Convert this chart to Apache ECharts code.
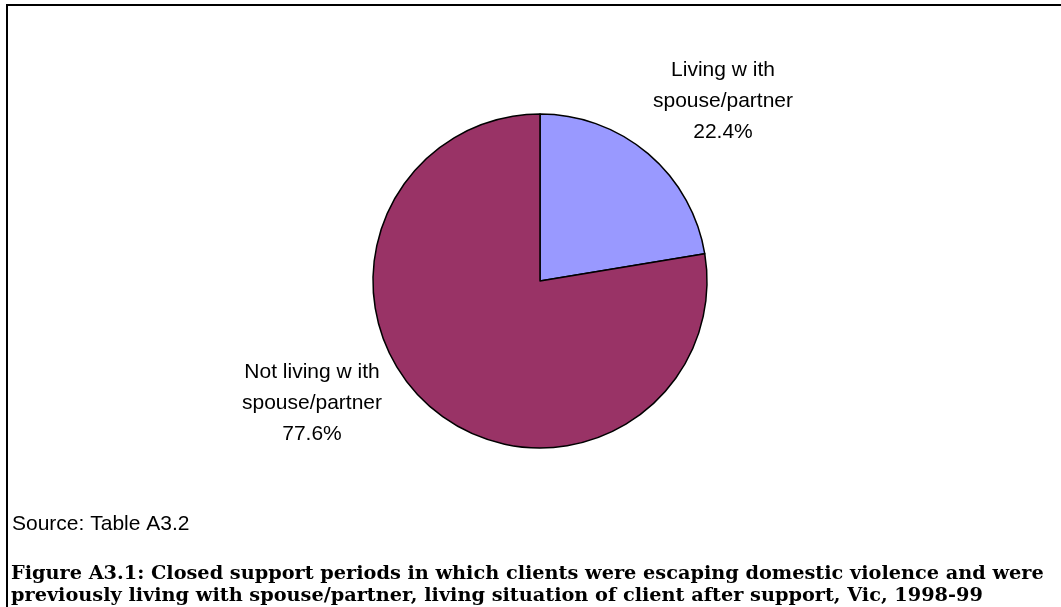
<!DOCTYPE html>
<html>
<head>
<meta charset="utf-8">
<script src="https://cdn.jsdelivr.net/npm/echarts@6/dist/echarts.min.js"></script>
<style>
html,body{margin:0;padding:0;background:#fff;}
#chart{width:1061px;height:607px;}
</style>
</head>
<body>
<div id="chart"></div>
<script>
const categories = ['Living w ith\nspouse/partner', 'Not living w ith\nspouse/partner'];
const values = [22.4, 77.6];
const colors = ['#9999FF', '#993366'];
const labelCentres = [[723, 101], [312, 403]];
const sourceText = 'Source: Table A3.2';
const titleLines = [
  'Figure A3.1: Closed support periods in which clients were escaping domestic violence and were',
  'previously living with spouse/partner, living situation of client after support, Vic, 1998-99'
];

const chart = echarts.init(document.getElementById('chart'), null, {renderer: 'canvas'});
const option = {
  backgroundColor: '#fff',
  animation: false,
  series: [{
    type: 'pie',
    center: [540, 281],
    radius: 167,
    startAngle: 90,
    clockwise: true,
    avoidLabelOverlap: false,
    data: categories.map((c, i) => ({name: c, value: values[i], itemStyle: {color: colors[i]}})),
    itemStyle: {borderColor: '#000', borderWidth: 1.5},
    label: {
      show: true,
      position: 'outside',
      formatter: p => p.name + '\n' + p.value.toFixed(1) + '%',
      fontFamily: 'Liberation Sans, Arial, sans-serif',
      fontSize: 21,
      lineHeight: 31,
      color: '#000',
      align: 'center'
    },
    labelLine: {show: false},
    labelLayout: p => ({
      x: labelCentres[p.dataIndex][0],
      y: labelCentres[p.dataIndex][1],
      align: 'center',
      verticalAlign: 'middle'
    }),
    emphasis: {disabled: true}
  }],
  graphic: [
    {type: 'polyline', shape: {points: [[7, 607], [7, 5], [1061, 5]]}, style: {stroke: '#000', lineWidth: 2, fill: null}},
    {type: 'text', left: 12, top: 514, style: {text: sourceText, fontFamily: 'Liberation Sans, Arial, sans-serif', fontSize: 21, fill: '#000'}},
    {type: 'text', left: 11, top: 563, style: {text: titleLines.join('\n'), fontFamily: 'DejaVu Serif, serif', fontWeight: 'bold', fontSize: 19.3, lineHeight: 22, fill: '#000'}}
  ]
};
chart.setOption(option);
</script>
</body>
</html>
